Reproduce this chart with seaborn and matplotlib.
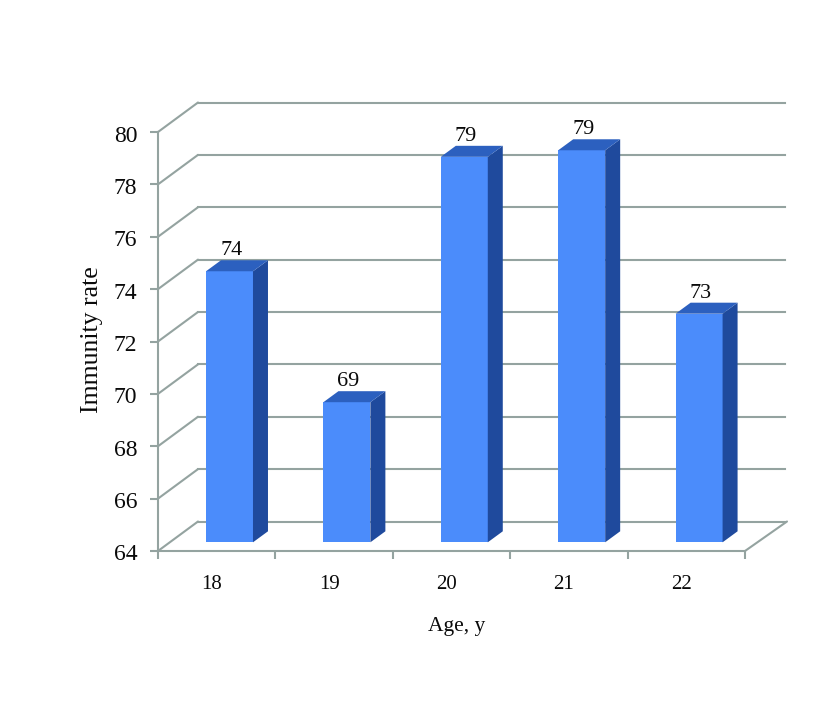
import matplotlib
matplotlib.use("Agg")
import matplotlib.pyplot as plt
import seaborn as sns
import pandas as pd
from matplotlib.patches import Polygon
from matplotlib.lines import Line2D
from matplotlib.transforms import ScaledTranslation, Affine2D

ages = ["18", "19", "20", "21", "22"]
values = [74.35, 69.35, 78.72, 78.97, 72.73]
labels = ["74", "69", "79", "79", "73"]
y_ticks = [64, 66, 68, 70, 72, 74, 76, 78, 80]
baseline = 64

GRID = "#94a3a0"
FRONT = "#4b8cfb"
TOP = "#2c60bf"
SIDE = "#1f4a9d"
INK = "#0a0a0a"
FONT = "Liberation Serif"

sns.set_theme(style="white")
plt.rcParams["font.family"] = FONT

W, H = 815, 701
fig = plt.figure(figsize=(W / 100, H / 100), dpi=100)
ax = fig.add_axes([158 / W, (H - 551) / H, 587 / W, 419 / H])


def shift(dx, dy):
    """Data transform moved by dx px right and dy px up."""
    return ax.transData + ScaledTranslation(dx / 100, dy / 100, fig.dpi_scale_trans)


df = pd.DataFrame({"age": ages, "value": values})
sns.barplot(data=df, x="age", y="value", color=FRONT, saturation=1, width=0.4, ax=ax, zorder=5)
ax.set_ylim(64, 80)
ax.set_xlim(-0.5, 4.5)

# back wall and side wall gridlines
DX, DY = 40, 29.5
wall = shift(DX, DY)
for t in y_ticks:
    ax.plot([-0.5, 4.5], [t, t], transform=wall, color=GRID, lw=1.5, clip_on=False, zorder=1,
            solid_capstyle="projecting")
    x0, y0 = ax.transData.transform((-0.5, t))
    ax.add_line(Line2D([0, DX], [0, DY], color=GRID, lw=1.5, clip_on=False, zorder=1,
                       transform=Affine2D().translate(x0, y0)))
# floor edge
x1, y1 = ax.transData.transform((4.5, baseline))
ax.add_line(Line2D([0, 42], [0, DY], color=GRID, lw=1.5, clip_on=False, zorder=1,
                   transform=Affine2D().translate(x1, y1)))

# bars: front, side and top faces
bar_shift = shift(12.8, 8.7)
d = (15, 11)
for patch, v, lab in zip(ax.patches, values, labels):
    left, w = patch.get_x(), patch.get_width()
    patch.set_y(baseline)
    patch.set_height(v - baseline)
    patch.set_transform(bar_shift)
    patch.set_clip_on(False)
    patch.set_linewidth(0)
    fx0, fy0 = bar_shift.transform((left, baseline))
    fx1, fy1 = bar_shift.transform((left + w, v))
    ax.add_patch(Polygon([(fx1, fy0), (fx1 + d[0], fy0 + d[1]), (fx1 + d[0], fy1 + d[1]), (fx1, fy1)],
                         closed=True, fc=SIDE, ec="none", transform=Affine2D(), clip_on=False, zorder=5))
    ax.add_patch(Polygon([(fx0, fy1), (fx1, fy1), (fx1 + d[0], fy1 + d[1]), (fx0 + d[0], fy1 + d[1])],
                         closed=True, fc=TOP, ec="none", transform=Affine2D(), clip_on=False, zorder=5))
    ax.text(left + w / 2, v, lab, transform=shift(14.5, 24.5), ha="center", va="baseline",
            fontsize=16, color=INK, zorder=6, clip_on=False)

for s in ["top", "right"]:
    ax.spines[s].set_visible(False)
for s in ["left", "bottom"]:
    ax.spines[s].set_color(GRID)
    ax.spines[s].set_linewidth(1.5)
    ax.spines[s].set_zorder(2)

ax.set_yticks(y_ticks)
ax.set_xticks([i - 0.5 for i in range(6)])
ax.set_xticklabels([])
ax.set_xticks(range(5), ages, minor=True)
ax.tick_params(axis="y", which="major", length=5.8, width=1.5, color=GRID, labelsize=17, pad=9,
               left=True, labelcolor=INK)
ax.tick_params(axis="x", which="major", length=5.8, width=1.5, color=GRID, bottom=True)
ax.tick_params(axis="x", which="minor", length=0, labelsize=15, pad=17, labelcolor=INK)
for tl in ax.get_xticklabels(minor=True):
    tl.set_transform(tl.get_transform() + ScaledTranslation(-5 / 100, 0, fig.dpi_scale_trans))
for tl in ax.get_yticklabels():
    tl.set_transform(tl.get_transform() + ScaledTranslation(0, -1.5 / 100, fig.dpi_scale_trans))
ax.set_xlabel("")
ax.set_ylabel("")
fig.text(92 / W, 1 - 340 / H, "Immunity rate", rotation=90, ha="center", va="center", fontsize=18.5, color=INK)
fig.text(457 / W, 1 - 626 / H, "Age, y", ha="center", va="center", fontsize=15.5, color=INK)

fig.savefig("out.png", dpi=100, facecolor="white")
